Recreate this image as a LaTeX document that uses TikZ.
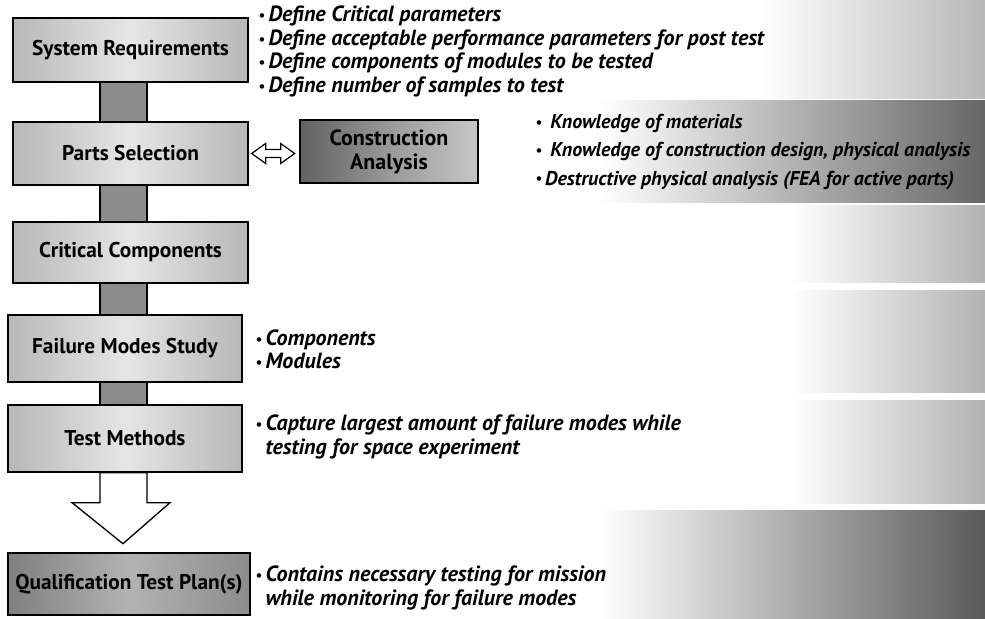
\documentclass[tikz,border=0pt]{standalone}
\usepackage{fontspec}
\setmainfont{PT Sans}
\usetikzlibrary{calc}

\tikzset{
  stagebox/.style={draw, line width=1pt, left color=black!28, right color=black!28,
    middle color=black!10, inner sep=0pt,
    font=\fontsize{16}{18}\selectfont\bfseries},
  darkbox/.style={stagebox, left color=black!50, right color=black!45, middle color=black!30},
  linkbar/.style={draw, line width=0.8pt, fill=black!45},
  note/.style={anchor=west, align=left, inner sep=0pt,
    font=\fontsize{16.5}{17.6}\selectfont\bfseries\itshape},
  hollow/.style={draw, line width=1pt, fill=white, line join=miter},
}
\newcommand{\bul}{{\fontsize{11}{11}\selectfont\raisebox{0.15ex}{\textbullet}}\,}

\begin{document}
\begin{tikzpicture}[x=0.75pt,y=-0.75pt]

  % page
  \fill[white] (0,0) rectangle (985,618);
  \useasboundingbox (0,0) rectangle (985,618);

  % shaded bands on the right
  \shade[left color=white, right color=black!28] (760,0) rectangle (985,98);
  \shade[left color=white, right color=black!60] (600,100) rectangle (985,202);
  \shade[left color=white, right color=black!30] (790,205) rectangle (985,282);
  \shade[left color=white, right color=black!30] (790,290) rectangle (985,392);
  \shade[left color=white, right color=black!30] (790,400) rectangle (985,503);
  \shade[left color=white, right color=black!65] (600,510) rectangle (985,618);

  % stage boxes
  \node[stagebox, minimum width=176.25pt, minimum height=48pt] (sys) at (130.5,50) {System Requirements};
  \node[stagebox, minimum width=176.25pt, minimum height=47.25pt] (parts) at (130.5,153.5) {Parts Selection};
  \node[stagebox, minimum width=176.25pt, minimum height=45.75pt] (crit) at (130.5,252.5) {Critical Components};
  \node[stagebox, minimum width=175.5pt, minimum height=50.25pt] (fail) at (125,348.5) {Failure Modes Study};
  \node[stagebox, minimum width=175.5pt, minimum height=50.25pt] (test) at (125,438.5) {Test Methods};
  \node[darkbox, minimum width=181.5pt, minimum height=46.5pt] (qual) at (129,584) {Qualification Test Plan(s)};

  % side box
  \node[stagebox, left color=black!62, right color=black!22, middle color=black!40,
    minimum width=133.5pt, minimum height=47.25pt, align=center,
    font=\fontsize{16.5}{18}\selectfont\bfseries] (cons) at (389,151.5) {Construction\\Analysis};

  % bars between the stages
  \coordinate (barL) at (100,0);
  \coordinate (barR) at (147,0);
  \draw[linkbar] (sys.south -| barL) rectangle (parts.north -| barR);
  \draw[linkbar] (parts.south -| barL) rectangle (crit.north -| barR);
  \draw[linkbar] (crit.south -| barL) rectangle (fail.north -| barR);
  \draw[linkbar] (fail.south -| barL) rectangle (test.north -| barR);

  % big arrow to the plan
  \draw[hollow] (test.south -| barL) -- ++(0,30) -- ++(-28,0) -- ++(51,41)
    -- ++(47,-41) -- ++(-23,0) -- (test.south -| barR) -- cycle;

  % double arrow parts <-> construction
  \draw[hollow, line width=0.9pt] ([xshift=2.25pt]parts.east) -- ++(14,-10) -- ++(0,6) -- ++(15,0)
    -- ++(0,-6) -- ++(14,10) -- ++(-14,10) -- ++(0,-6) -- ++(-15,0) -- ++(0,6) -- cycle;

  % notes
  \node[note] (sysnote) at (258,51.5) {\bul Define Critical parameters\\
    \bul Define acceptable performance parameters for post test\\
    \bul Define components of modules to be tested\\
    \bul Define number of samples to test};
  \node[note, font=\fontsize{15}{17.6}\selectfont\bfseries\itshape] (consnote) at (535,152)
    {\bul\ Knowledge of materials\\[3.5pt]
    \bul\ Knowledge of construction design, physical analysis\\[3.5pt]
    \bul Destructive physical analysis (FEA for active parts)};
  \node[note] (failnote) at (255,349.5) {\bul Components\\ \bul Modules};
  \node[note] (testnote) at (255,437) {\bul Capture largest amount of failure modes while\\
    \hphantom{\bul}testing for space experiment};
  \node[note] (qualnote) at (255,588) {\bul Contains necessary testing for mission\\
    \hphantom{\bul}while monitoring for failure modes};

\end{tikzpicture}
\end{document}
